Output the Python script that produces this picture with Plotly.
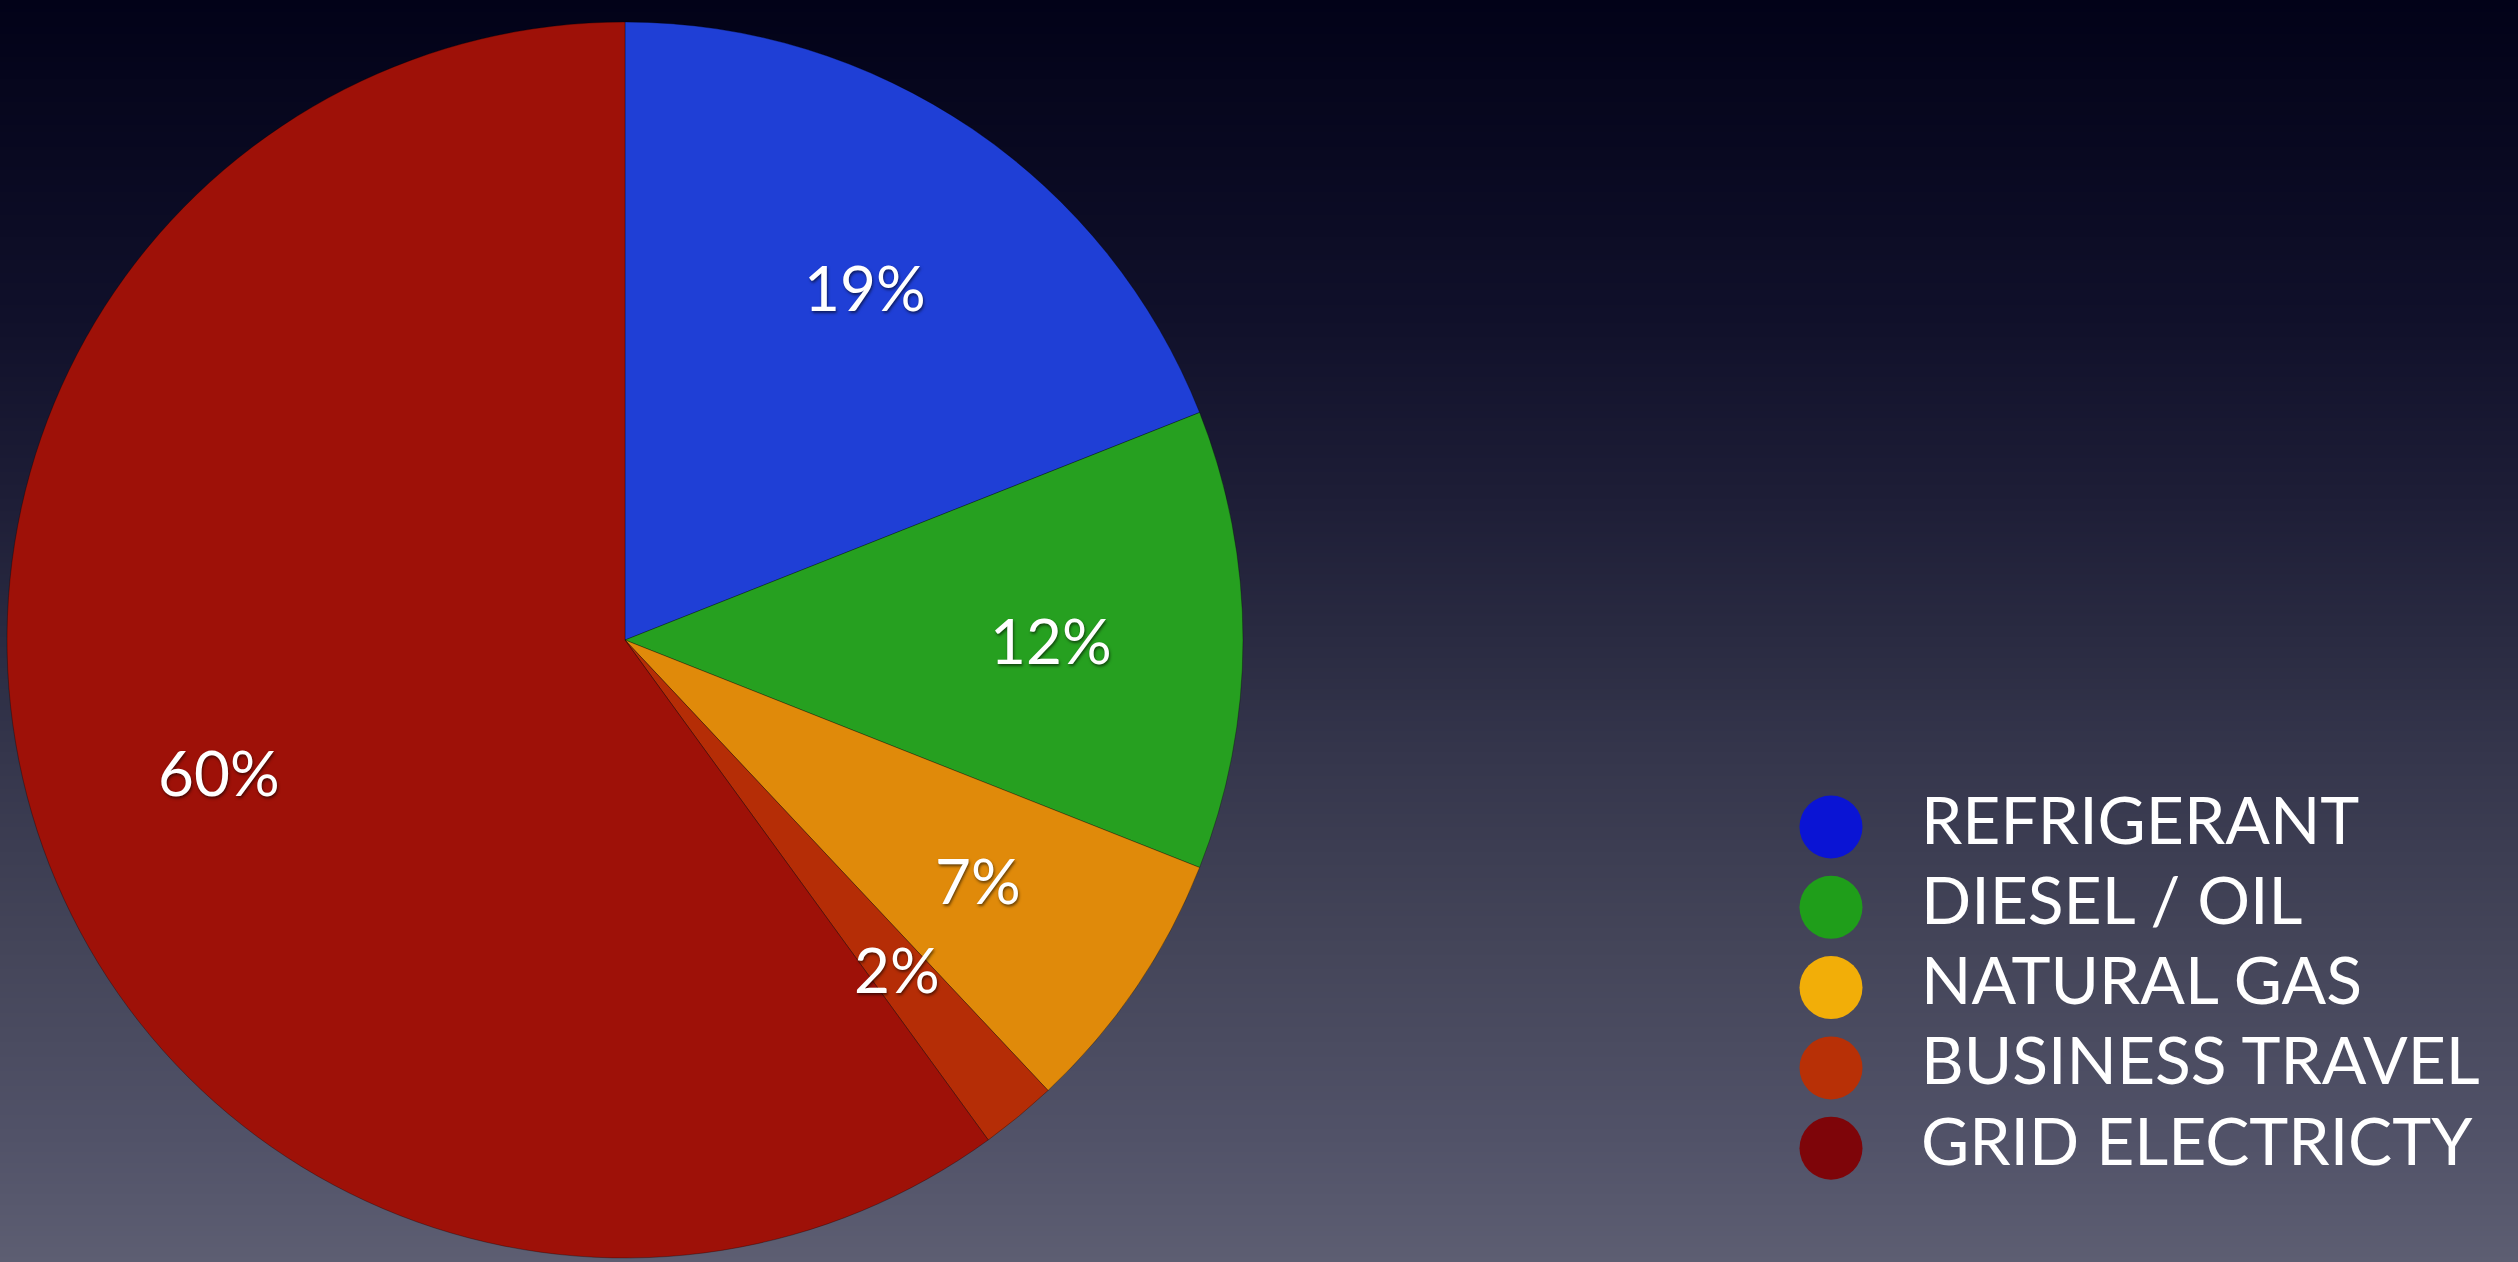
import math
import plotly.graph_objects as go

# Emission sources and their share of the total (%)
categories = ["REFRIGERANT", "DIESEL / OIL", "NATURAL GAS", "BUSINESS TRAVEL", "GRID ELECTRICTY"]
shares = [19, 12, 7, 2, 60]

# Slice fills and legend swatch fills
slice_colors = ["#1f3fd6", "#26a020", "#e08a0a", "#b52d06", "#9e1108"]
swatch_colors = ["#0a14d4", "#1f9e1a", "#f2ae08", "#b83006", "#7e0509"]

W, H = 2518, 1262

# Pie placement in pixels
PIE_CX, PIE_CY, PIE_R = 625, 640, 618
LABEL_FRAC = 0.69

# Legend placement in pixels
LEG_X, LEG_TEXT_X, LEG_Y0, LEG_DY = 1831, 1921, 827, 80.3

FONT = "Gill Sans, Lato, Open Sans, sans-serif"
SHADOW = "1px 2px 3px rgba(0,0,0,0.55)"

fig = go.Figure()

# Background: vertical night-sky gradient drawn as a smooth heatmap
bg_stops = [0.0, 0.25, 0.4, 0.5, 0.6, 0.75, 0.9, 1.0]
bg_cols = ["#020218", "#10102a", "#1e1e37", "#292a41", "#35364c", "#444559", "#515268", "#5d5e72"]
fig.add_trace(go.Heatmap(
    x=[0, W], y=[H * s for s in bg_stops],
    z=[[s, s] for s in bg_stops],
    colorscale=[[s, c] for s, c in zip(bg_stops, bg_cols)],
    zmin=0, zmax=1, zsmooth="best", showscale=False, hoverinfo="skip",
))

# Legend swatches and names
leg_y = [LEG_Y0 + i * LEG_DY for i in range(len(categories))]
fig.add_trace(go.Scatter(
    x=[LEG_X] * len(categories), y=leg_y, mode="markers",
    marker=dict(size=63, color=swatch_colors, line=dict(width=0)),
    hoverinfo="skip", showlegend=False,
))
fig.add_trace(go.Scatter(
    x=[LEG_TEXT_X] * len(categories), y=leg_y, mode="text",
    text=categories, textposition="middle right",
    textfont=dict(family=FONT, size=66, color="white"),
    hoverinfo="skip", showlegend=False,
))

# The pie itself
fig.add_trace(go.Pie(
    labels=categories, values=shares, sort=False, direction="clockwise", rotation=0,
    marker=dict(colors=slice_colors, line=dict(color="rgba(0,0,0,0.3)", width=1)),
    textinfo="none", hoverinfo="label+percent", showlegend=False,
    domain=dict(x=[(PIE_CX - PIE_R) / W, (PIE_CX + PIE_R) / W],
                y=[1 - (PIE_CY + PIE_R) / H, 1 - (PIE_CY - PIE_R) / H]),
))

# Percentage labels at each slice's mid-angle
total = sum(shares)
cum = 0
for v in shares:
    theta = 2 * math.pi * (cum + v / 2) / total
    cum += v
    px = PIE_CX + LABEL_FRAC * PIE_R * math.sin(theta)
    py = PIE_CY - LABEL_FRAC * PIE_R * math.cos(theta)
    fig.add_annotation(
        x=px, y=py, xref="x", yref="y", text=f"{v}%", showarrow=False,
        font=dict(family=FONT, size=62, color="white", shadow=SHADOW),
    )

fig.update_xaxes(range=[0, W], visible=False, domain=[0, 1], fixedrange=True)
fig.update_yaxes(range=[H, 0], visible=False, domain=[0, 1], fixedrange=True)
fig.update_layout(
    width=W, height=H, margin=dict(l=0, r=0, t=0, b=0),
    paper_bgcolor="#2a2a40", plot_bgcolor="rgba(0,0,0,0)",
    showlegend=False,
)

fig.write_html("out.html")
